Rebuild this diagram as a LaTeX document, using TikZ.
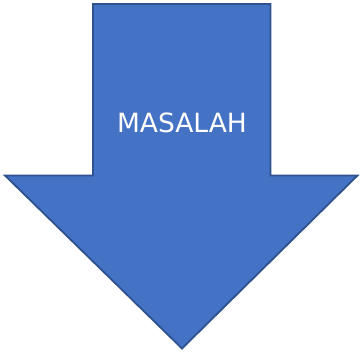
\documentclass[tikz,border=0pt]{standalone}
\usepackage{fontspec}
\setmainfont{DejaVu Sans}
\definecolor{arrowfill}{HTML}{4472C4}
\definecolor{arrowline}{HTML}{2F528F}
\tikzset{bigarrow/.style={fill=arrowfill,draw=arrowline,line width=1.8pt,line join=miter},
  label/.style={text=white,font=\fontsize{26.5}{30}\selectfont,inner sep=0pt}}
\begin{document}
\begin{tikzpicture}[x=1pt,y=-1pt]
\useasboundingbox (0,0) rectangle (360,354);
\draw[bigarrow] (93,4) -- (270.5,4) -- (270.5,175.5) -- (357.5,175.5) -- (182,348.5) -- (5,175.5) -- (93,175.5) -- cycle;
\node[label] (t) at (182,122.5) {MASALAH};
\end{tikzpicture}
\end{document}
